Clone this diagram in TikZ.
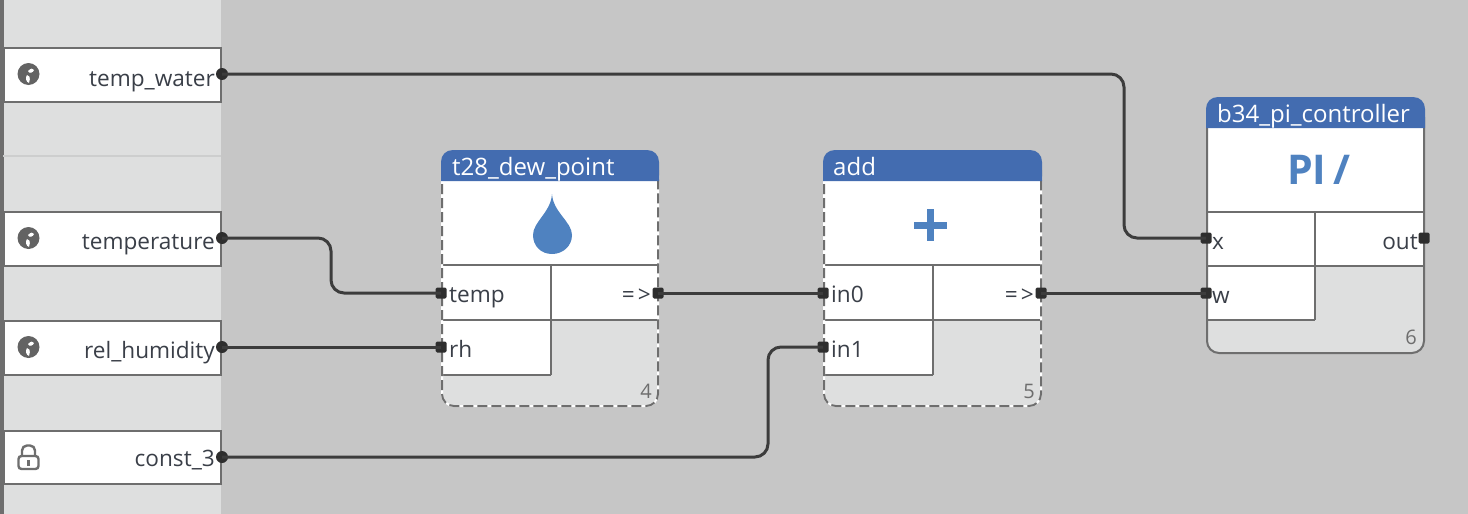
\documentclass[tikz,border=0pt]{standalone}
\usepackage{fontspec}
\setmainfont{Open Sans}
\definecolor{bgc}{HTML}{C6C6C6}
\definecolor{panelc}{HTML}{DEDFDF}
\definecolor{edgec}{HTML}{6E6E6E}
\definecolor{headc}{HTML}{436CB0}
\definecolor{iconc}{HTML}{4F82C0}
\definecolor{wirec}{HTML}{3C3C3C}
\definecolor{portc}{HTML}{2E2E2E}
\definecolor{txtc}{HTML}{3A3F48}
\newcommand{\lbl}{\fontsize{22.6}{26}\selectfont}
\tikzset{
  x=1pt,y=-1pt,
  srcbox/.style={draw=edgec,line width=2pt,fill=white},
  txt/.style={inner sep=0pt,text=txtc,font=\lbl},
  num/.style={inner sep=0pt,text=edgec,font=\fontsize{20}{22}\selectfont,anchor=base east},
  port/.style={fill=portc,draw=none,minimum size=11pt,inner sep=0pt,rectangle,rounded corners=1.5pt},
  srcport/.style={fill=portc,draw=none,minimum size=12pt,inner sep=0pt,circle},
  wire/.style={draw=wirec,line width=3pt,rounded corners=13pt},
  head/.style={inner sep=0pt,text=white,font=\fontsize{24}{28}\selectfont},
  globe/.style={fill=edgec!90!black,draw=none},
  rule/.style={draw=edgec,line width=2pt},
}
\newcommand{\blockbody}[8]{%
  \fill[panelc,rounded corners=12pt] (#1,#2) rectangle (#4,#2+256);
  \fill[white] (#1,#5) rectangle (#4,#7);
  \fill[white] (#1,#7) rectangle (#3,#8);
  \draw[rule] (#1,#6) -- (#4,#6);
  \draw[rule] (#1,#7) -- (#4,#7);
  \draw[rule] (#1,#8) -- (#3,#8);
  \draw[rule] (#3,#6) -- (#3,#8);
}
\newcommand{\blockhead}[4]{%
  \fill[headc] (#1-1,#4) -- (#1-1,#2+12) .. controls (#1-1,#2+5) and (#1+4,#2) .. (#1+11,#2) -- (#3-11,#2) .. controls (#3-4,#2) and (#3+1,#2+5) .. (#3+1,#2+12) -- (#3+1,#4) -- cycle;
}
\begin{document}
\begin{tikzpicture}
\useasboundingbox (0,0) rectangle (1468,514);
\fill[bgc] (0,0) rectangle (1468,514);
\fill[panelc] (3,0) rectangle (221,514);
\fill[edgec] (0,0) rectangle (3.5,514);
\draw[bgc!70!panelc,line width=1.2pt] (3,156) -- (221,156);
% source boxes
\draw[srcbox] (4,47.5) rectangle (221,102);
\draw[srcbox] (4,211.5) rectangle (221,266);
\draw[srcbox] (4,320.5) rectangle (221,375);
\draw[srcbox] (4,430.5) rectangle (221,484);
\node[txt,anchor=base east] (ntw) at (215,86) {temp\_water};
\node[txt,anchor=base east] (ntemp) at (215,249) {temperature};
\node[txt,anchor=base east] (nrh) at (215,358) {rel\_humidity};
\node[txt,anchor=base east] (nc3) at (215,466) {const\_3};
% globes
\foreach \yy in {74,238,347}{
  \fill[globe] (28.5,\yy) circle (11);
  \fill[white] (28,\yy-3) .. controls (31,\yy-6) and (33,\yy-6) .. (34,\yy-4) .. controls (33,\yy-1) and (29,\yy) .. (28,\yy-3) -- cycle;
  \fill[white] (27,\yy+1) .. controls (29,\yy+1) and (31,\yy+3) .. (29,\yy+9) .. controls (26,\yy+8) and (25,\yy+4) .. (27,\yy+1) -- cycle;
}
% lock
\draw[edgec,line width=2.4pt,rounded corners=3pt] (18.5,456) rectangle (38.5,469);
\draw[edgec,line width=2.4pt,rounded corners=5pt] (22,456) -- (22,445.5) -- (35,445.5) -- (35,456);
\fill[edgec] (27.2,460) rectangle (29.8,466);
% block 1
\blockbody{442}{150}{551}{658}{181}{265}{320}{375}
\draw[white,line width=2pt,rounded corners=12pt] (442,170) -- (442,406) -- (658,406) -- (658,170);
\draw[edgec,line width=2pt,dash pattern=on 10pt off 4pt,rounded corners=12pt] (442,170) -- (442,406) -- (658,406) -- (658,170);
\blockhead{442}{150}{658}{181}
\node[head,anchor=base west] (h1) at (452,175) {t28\_dew\_point};
\fill[iconc] (552,194) .. controls (553,212) and (572,222) .. (572,235) .. controls (572,246) and (563,254) .. (552,254) .. controls (541,254) and (533,246) .. (533,235) .. controls (533,222) and (551,212) .. (552,194) -- cycle;
\node[txt,anchor=base west] (t1a) at (449,302) {temp};
\node[txt,anchor=base west] (t1b) at (449,357) {rh};
\node[txt,anchor=base east] (t1c) at (651,302) {=\kern3pt>};
\node[num] (n1) at (652,398) {4};
% block 2
\blockbody{824}{150}{933}{1041}{181}{265}{320}{375}
\draw[white,line width=2pt,rounded corners=12pt] (824,170) -- (824,406) -- (1041,406) -- (1041,170);
\draw[edgec,line width=2pt,dash pattern=on 10pt off 4pt,rounded corners=12pt] (824,170) -- (824,406) -- (1041,406) -- (1041,170);
\blockhead{824}{150}{1041}{181}
\node[head,anchor=base west] (h2) at (833,175) {add};
\draw[iconc,line width=7pt] (930,209) -- (930,241);
\draw[iconc,line width=7pt] (914,225) -- (947,225);
\node[txt,anchor=base west] (t2a) at (831,302) {in0};
\node[txt,anchor=base west] (t2b) at (831,357) {in1};
\node[txt,anchor=base east] (t2c) at (1034,302) {=\kern3pt>};
\node[num] (n2) at (1035,398) {5};
% block 3
\blockbody{1207}{97}{1315}{1424}{128}{212}{266}{320}
\draw[rule,rounded corners=12pt] (1207,117) -- (1207,353) -- (1424,353) -- (1424,117);
\blockhead{1207}{97}{1424}{128}
\node[inner sep=0pt,anchor=base west,text=iconc,font=\fontsize{41}{45}\bfseries\selectfont] (pi) at (1287,184) {PI\kern7pt/};
\node[head,anchor=base west] (h3) at (1217,122) {b34\_pi\_controller};
\node[txt,anchor=base west] (t3a) at (1212,249) {x};
\node[txt,anchor=base west] (t3b) at (1212,303) {w};
\node[txt,anchor=base east] (t3c) at (1418,249) {out};
\node[num] (n3) at (1417,344) {6};
% port nodes
\node[srcport] (ptw) at (222,74) {};
\node[srcport] (ptemp) at (222,238) {};
\node[srcport] (prh) at (222,347) {};
\node[srcport] (pc3) at (222,457) {};
\node[port] (p1a) at (441,293) {};
\node[port] (p1b) at (441,347) {};
\node[port] (p1c) at (658,293) {};
\node[port] (p2a) at (823,293) {};
\node[port] (p2b) at (823,347) {};
\node[port] (p2c) at (1041,293) {};
\node[port] (p3a) at (1206,238) {};
\node[port] (p3b) at (1206,293) {};
\node[port] (p3c) at (1424,238) {};
% wires
\draw[wire] (ptw.center) -- (1124,74) -- (1124,238) -- (p3a.center);
\draw[wire] (ptemp.center) -- (331,238) -- (331,293) -- (p1a.center);
\draw[wire] (prh.center) -- (p1b.center);
\draw[wire] (pc3.center) -- (768,457) -- (768,347) -- (p2b.center);
\draw[wire] (p1c.center) -- (p2a.center);
\draw[wire] (p2c.center) -- (p3b.center);
\end{tikzpicture}
\end{document}
